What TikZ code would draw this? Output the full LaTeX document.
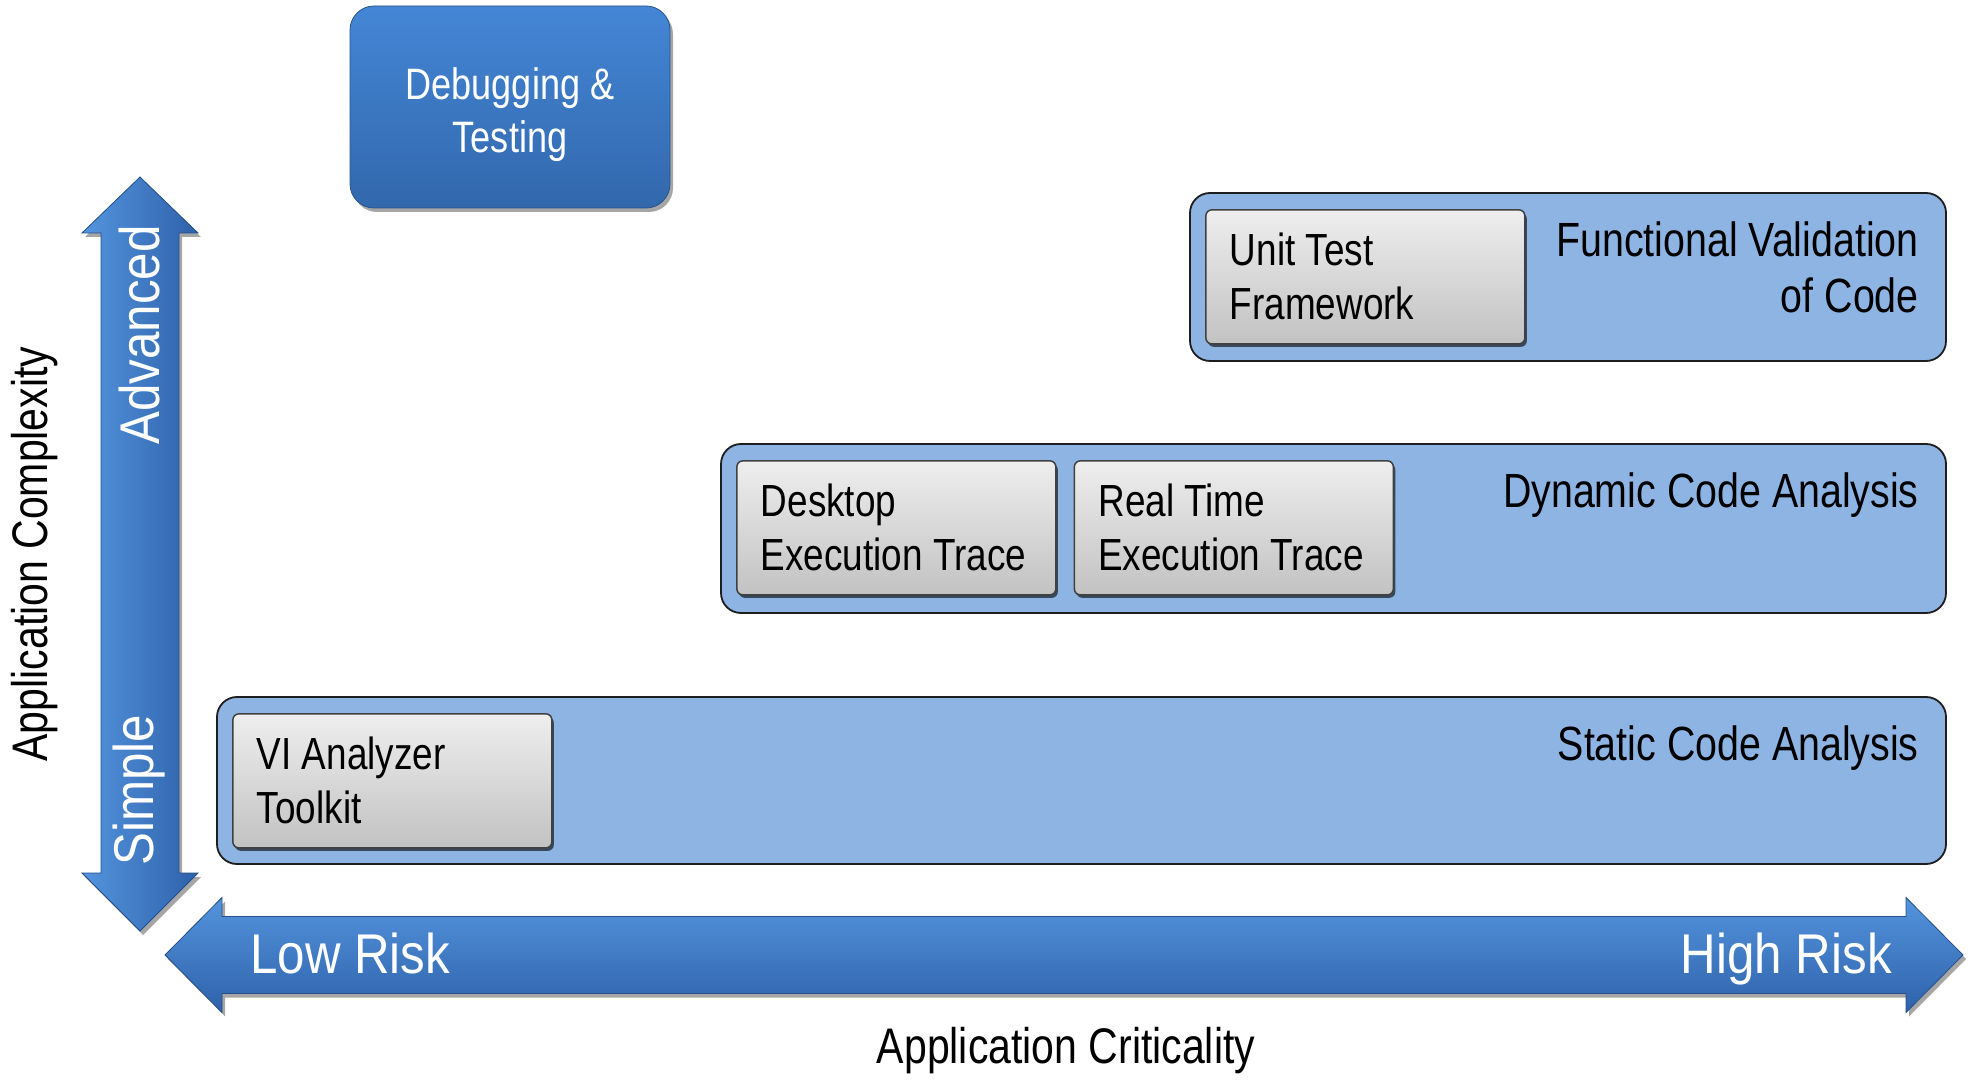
\documentclass[tikz,border=0pt]{standalone}
\usepackage{fontspec}
\setmainfont{Liberation Sans}[FakeStretch=0.82]
\newfontfamily\riskfont{Liberation Sans}[FakeStretch=0.88]
\usepackage{tikz}
\usetikzlibrary{positioning, shadows}
\usepackage{xcolor}
\definecolor{cBand}{RGB}{141,180,227}
\definecolor{cEdge}{RGB}{30,30,30}
\definecolor{cToolTop}{RGB}{238,238,238}
\definecolor{cToolBot}{RGB}{194,194,194}
\definecolor{cBlueTop}{RGB}{84,148,222}
\definecolor{cBlueBot}{RGB}{46,98,170}
\definecolor{cDebugTop}{RGB}{68,134,214}
\definecolor{cDebugBot}{RGB}{50,104,172}
\tikzset{
  bandnode/.style={rectangle, rounded corners=20pt, draw=cEdge,
                   line width=1.8pt, fill=cBand, inner sep=0pt},
  toolnode/.style={rectangle, rounded corners=6pt, draw=cEdge!85,
                   line width=1.5pt, top color=cToolTop, bottom color=cToolBot,
                   align=flush left, text width=271pt, inner xsep=24pt,
                   minimum height=134pt, font=\fontsize{45}{54}\selectfont,
                   drop shadow={shadow xshift=2pt, shadow yshift=-3pt,
                                opacity=0.6, fill=black}},
  titlenode/.style={inner sep=0pt, align=right,
                    font=\fontsize{48}{56}\selectfont},
  axisnode/.style={inner sep=0pt, font=\fontsize{50}{56}\selectfont},
  risknode/.style={inner sep=0pt, text=white,
                   font=\riskfont\fontsize{56}{60}\selectfont},
  debugnode/.style={rectangle, rounded corners=24pt, draw=cDebugBot!80!black,
                    line width=0.8pt, top color=cDebugTop, bottom color=cDebugBot,
                    align=center, text=white, font=\fontsize{44}{53}\selectfont,
                    drop shadow={shadow xshift=3pt, shadow yshift=-4pt,
                                 opacity=0.35, fill=black}},
  harrow/.style={draw=cBlueBot!80!black, line width=0.8pt,
                 top color=cBlueTop, bottom color=cBlueBot,
                 drop shadow={shadow xshift=3pt, shadow yshift=-4pt,
                              opacity=0.35, fill=black}},
  varrow/.style={harrow, left color=cBlueTop, right color=cBlueBot}
}

\begin{document}
\begin{tikzpicture}[x=1pt, y=1pt, node distance=17pt and 16pt]
  \useasboundingbox (0,0) rectangle (1979,1080);

  \draw[varrow] (140,903) -- (198,847) -- (179,847) -- (179,207) -- (198,207)
      -- (140,149) -- (82,207) -- (101,207) -- (101,847) -- (82,847) -- cycle;
  \draw[harrow] (165,125) -- (222,182.5) -- (222,163.5) -- (1906,163.5)
      -- (1906,182.5) -- (1963,125) -- (1906,67.5) -- (1906,86.5)
      -- (222,86.5) -- (222,67.5) -- cycle;

  \node[debugnode, minimum width=320pt, minimum height=202pt] (debug)
      at (510,973) {\rule{0pt}{48pt}Debugging \&\\Testing};

  \node[bandnode, minimum width=756pt, minimum height=168pt] (func)
      at (1568,803) {};
  \node[bandnode, minimum width=1225pt, minimum height=169pt] (dyn)
      at (1333.5,551.5) {};
  \node[bandnode, minimum width=1729pt, minimum height=167pt] (stat)
      at (1081.5,299.5) {};

  \node[toolnode, below right=of func.north west] (unit) {Unit Test\\Framework};
  \node[toolnode, below right=of dyn.north west] (desk) {Desktop\\Execution Trace};
  \node[toolnode, right=17pt of desk] (rtime) {Real Time\\Execution Trace};
  \node[toolnode, below right=of stat.north west] (vi) {VI Analyzer\\Toolkit};

  \node[titlenode, below left=29pt and 28pt of func.north east] (func_t)
      {Functional Validation\\of Code};
  \node[titlenode, below left=29pt and 28pt of dyn.north east] (dyn_t)
      {Dynamic Code Analysis};
  \node[titlenode, below left=29pt and 28pt of stat.north east] (stat_t)
      {Static Code Analysis};

  \node[risknode, anchor=base west] (low) at (250,107) {Low Risk};
  \node[risknode, anchor=base east] (high) at (1892,107) {High Risk};
  \node[risknode, rotate=90] (adv) at (139,745) {Advanced};
  \node[risknode, rotate=90] (simple) at (139,290) {Simple};

  \node[axisnode, rotate=90] (cplx) at (35,526) {Application Complexity};
  \node[axisnode] (crit) at (1066,29) {Application Criticality};
\end{tikzpicture}
\end{document}
